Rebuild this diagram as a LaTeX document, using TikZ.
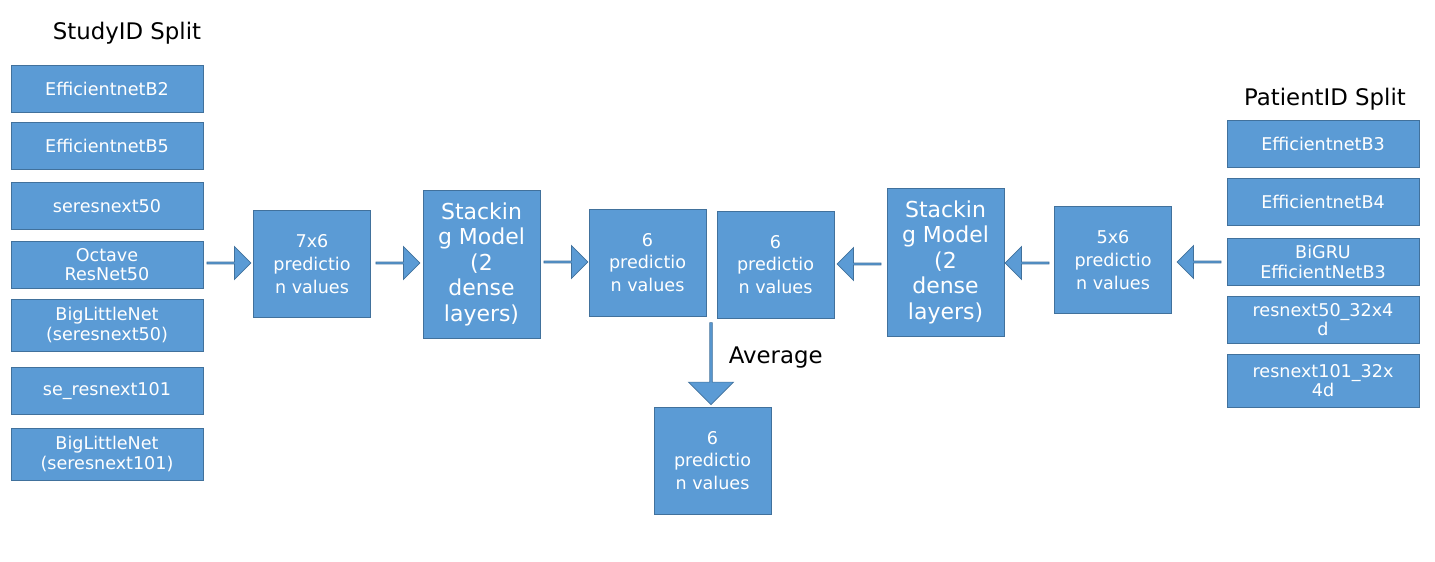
\documentclass[tikz,border=0pt]{standalone}
\usepackage{fontspec}
\setmainfont{DejaVu Sans}
\usetikzlibrary{shapes,arrows,positioning}
\definecolor{boxblue}{HTML}{5B9BD5}
\definecolor{boxline}{HTML}{41719C}

\begin{document}
\begin{tikzpicture}[
    x=0.02cm, y=-0.02cm,
    model/.style={rectangle, draw=boxline, fill=boxblue, text=white, minimum width=3.84cm, minimum height=0.94cm, align=center, inner sep=1pt, font=\fontsize{10}{11}\selectfont},
    pred/.style={rectangle, draw=boxline, fill=boxblue, text=white, minimum width=2.34cm, minimum height=2.14cm, align=center, inner sep=1pt, font=\fontsize{10}{13}\selectfont},
    stack/.style={rectangle, draw=boxline, fill=boxblue, text=white, minimum width=2.34cm, minimum height=2.96cm, align=center, inner sep=1pt, font=\fontsize{12.5}{14.5}\selectfont},
    blockarrow/.style={single arrow, draw=boxline, fill=boxblue, minimum height=0.88cm, minimum width=0.66cm, single arrow head extend=0.12cm, inner sep=0pt},
    title/.style={font=\fontsize{13}{15}\selectfont}
]
\useasboundingbox (0,0) rectangle (1435,561);

% StudyID split
\node[title] (studytitle) at (127,33) {StudyID Split};
\node[model] (effb2) at (107,89) {EfficientnetB2};
\node[model] (effb5) at (107,146) {EfficientnetB5};
\node[model] (seres50) at (107,206) {seresnext50};
\node[model] (octave) at (107,264.5) {Octave\\ResNet50};
\node[model, minimum height=1.04cm] (blnet50) at (107,325) {BigLittleNet\\(seresnext50)};
\node[model] (seres101) at (107,391) {se\_resnext101};
\node[model, minimum height=1.04cm] (blnet101) at (107,454) {BigLittleNet\\(seresnext101)};

% PatientID split
\node[title] (patienttitle) at (1325,99) {PatientID Split};
\node[model] (effb3) at (1323,144) {EfficientnetB3};
\node[model] (effb4) at (1323,202) {EfficientnetB4};
\node[model] (bigru) at (1323,262) {BiGRU\\EfficientNetB3};
\node[model] (rnx50) at (1323,319.5) {resnext50\_32x4\\d};
\node[model, minimum height=1.06cm] (rnx101) at (1323,380.5) {resnext101\_32x\\4d};

% Predictions and stacking
\node[pred] (left76) at (312,264) {7x6\\predictio\\n values};
\node[stack] (leftstack) at (481.5,264) {Stackin\\g Model\\(2\\dense\\layers)};
\node[pred] (leftpred) at (647.5,262.5) {6\\predictio\\n values};
\node[pred] (rightpred) at (775.5,264.5) {6\\predictio\\n values};
\node[stack] (rightstack) at (945.5,262) {Stackin\\g Model\\(2\\dense\\layers)};
\node[pred] (right56) at (1113,260) {5x6\\predictio\\n values};
\node[pred] (avgpred) at (712.5,460.5) {6\\predictio\\n values};

% Block arrows
\node[blockarrow] (arr1) at (228.5,263) {};
\node[blockarrow] (arr2) at (397.5,263) {};
\node[blockarrow] (arr3) at (565.5,262) {};
\node[blockarrow, shape border rotate=180] (arr4) at (859.5,264) {};
\node[blockarrow, shape border rotate=180] (arr5) at (1027.5,263) {};
\node[blockarrow, shape border rotate=180] (arr6) at (1199.5,262) {};
\node[blockarrow, shape border rotate=270, minimum height=1.64cm, minimum width=0.9cm] (arrdown) at (711,363) {};
\node[title, anchor=west] (avglabel) at (arrdown.east) [xshift=0.2cm, yshift=0.1cm] {Average};
\end{tikzpicture}
\end{document}
